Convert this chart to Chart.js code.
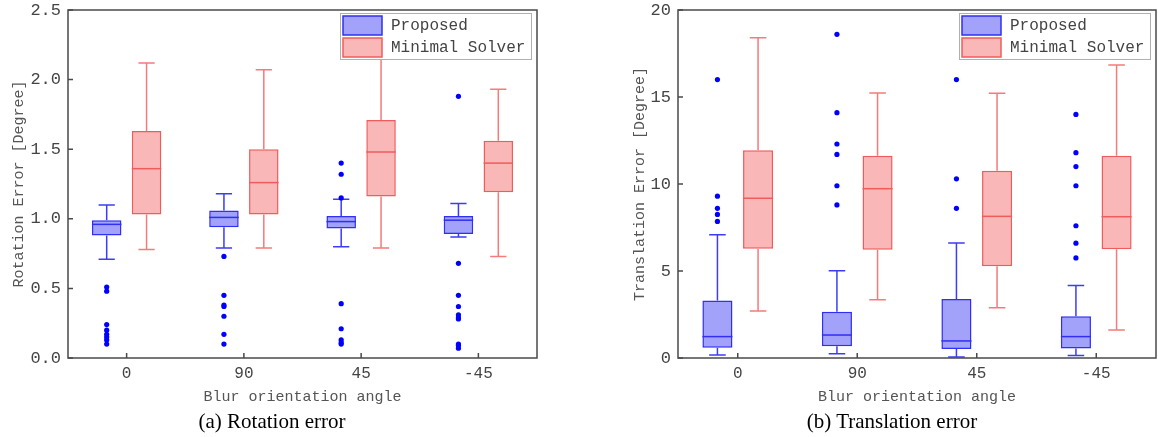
<!DOCTYPE html>
<html>
<head>
<meta charset="utf-8">
<script src="https://cdn.jsdelivr.net/npm/chart.js@4/dist/chart.umd.min.js"></script>
<style>
  html, body { margin: 0; padding: 0; background: #fff; }
  #wrap { position: relative; width: 1158px; height: 437px; overflow: hidden; }
  canvas { position: absolute; top: 0; }
  .cap { position: absolute; top: 409px; font-family: 'Liberation Serif', serif; font-size: 21px; color: #000; transform: translateX(-50%); white-space: nowrap; }
</style>
</head>
<body>
<div id="wrap">
  <canvas id="rotChart" width="579" height="410" style="left:0"></canvas>
  <canvas id="transChart" width="579" height="410" style="left:579px"></canvas>
  <div class="cap" style="left:272px">(a) Rotation error</div>
  <div class="cap" style="left:892px">(b) Translation error</div>
</div>
<script>
// Blur orientation angles (x categories)
const categories = ['0', '90', '45', '-45'];
const seriesNames = ['Proposed', 'Minimal Solver'];

// Rotation error - Proposed
const rotPropLo  = [0.71, 0.79, 0.80, 0.87];
const rotPropQ1  = [0.88, 0.94, 0.93, 0.89];
const rotPropMed = [0.96, 1.01, 0.98, 0.99];
const rotPropQ3  = [0.99, 1.06, 1.02, 1.02];
const rotPropHi  = [1.10, 1.18, 1.14, 1.11];
const rotPropOut = [
    [0.51, 0.48, 0.24, 0.20, 0.17, 0.15, 0.13, 0.10],
    [0.73, 0.45, 0.38, 0.37, 0.30, 0.17, 0.10],
    [1.40, 1.32, 1.15, 0.39, 0.21, 0.13, 0.11, 0.10],
    [1.88, 0.68, 0.45, 0.37, 0.31, 0.29, 0.28, 0.10, 0.09, 0.07]
];
// Rotation error - Minimal Solver
const rotMinLo  = [0.78, 0.79, 0.79, 0.73];
const rotMinQ1  = [1.03, 1.03, 1.16, 1.19];
const rotMinMed = [1.36, 1.26, 1.48, 1.40];
const rotMinQ3  = [1.63, 1.50, 1.71, 1.56];
const rotMinHi  = [2.12, 2.07, 2.30, 1.93];
const rotMinOut = [[], [], [], []];

// Translation error - Proposed
const trPropLo  = [0.17, 0.25, 0.06, 0.14];
const trPropQ1  = [0.59, 0.67, 0.52, 0.54];
const trPropMed = [1.23, 1.32, 0.98, 1.23];
const trPropQ3  = [3.30, 2.66, 3.39, 2.40];
const trPropHi  = [7.09, 5.02, 6.61, 4.16];
const trPropOut = [
    [16.0, 9.3, 8.6, 8.25, 7.85],
    [18.6, 14.1, 12.3, 11.7, 9.9, 8.8],
    [16.0, 10.3, 8.6],
    [14.0, 11.8, 11.0, 9.9, 7.6, 6.6, 5.75]
];
// Translation error - Minimal Solver
const trMinLo  = [2.70, 3.35, 2.89, 1.61];
const trMinQ1  = [6.28, 6.22, 5.27, 6.25];
const trMinMed = [9.18, 9.73, 8.14, 8.12];
const trMinQ3  = [11.94, 11.63, 10.76, 11.63];
const trMinHi  = [18.41, 15.23, 15.21, 16.84];
const trMinOut = [[], [], [], []];

// Tick values
const rotTicks = [0, 0.5, 1.0, 1.5, 2.0, 2.5];
const trTicks = [0, 5, 10, 15, 20];

const BLUE = { fill: 'rgba(85, 85, 245, 0.55)', line: '#2f2ff5', whisker: '#3c3cf8', dot: '#0000ff' };
const RED = { fill: 'rgba(245, 135, 135, 0.6)', line: '#f05c5c', whisker: '#f57a7a', dot: '#ff0000' };

Chart.defaults.font.family = "'Liberation Mono', monospace";
Chart.defaults.color = '#444';

function boxDataset(label, col, lo, q1, med, q3, hi, out) {
    return {
        label: label,
        data: q1.map((v, i) => [v, q3[i]]),
        backgroundColor: col.fill,
        borderColor: col.line,
        borderWidth: 1.5,
        borderSkipped: false,
        categoryPercentage: 0.68,
        barPercentage: 0.74,
        lo: lo, med: med, hi: hi, out: out, col: col
    };
}

// draws medians, whiskers, outliers, frame, inward ticks and the legend
const boxPlotPlugin = {
    id: 'boxPlotPlugin',
    afterDatasetsDraw(chart) {
        const ctx = chart.ctx;
        const y = chart.scales.y;
        chart.data.datasets.forEach((ds, di) => {
            const meta = chart.getDatasetMeta(di);
            meta.data.forEach((bar, i) => {
                const cx = bar.x;
                const half = bar.width / 2;
                const cap = half * 0.55;
                const yQ1 = y.getPixelForValue(ds.data[i][0]);
                const yQ3 = y.getPixelForValue(ds.data[i][1]);
                const yLo = y.getPixelForValue(ds.lo[i]);
                const yHi = y.getPixelForValue(ds.hi[i]);
                const yMed = y.getPixelForValue(ds.med[i]);
                ctx.save();
                ctx.lineWidth = 1.5;
                ctx.strokeStyle = ds.col.whisker;
                ctx.beginPath();
                ctx.moveTo(cx, yQ3); ctx.lineTo(cx, yHi);
                ctx.moveTo(cx - cap, yHi); ctx.lineTo(cx + cap, yHi);
                ctx.moveTo(cx, yQ1); ctx.lineTo(cx, yLo);
                ctx.moveTo(cx - cap, yLo); ctx.lineTo(cx + cap, yLo);
                ctx.stroke();
                ctx.strokeStyle = ds.col.line;
                ctx.beginPath();
                ctx.moveTo(cx - half, yMed); ctx.lineTo(cx + half, yMed);
                ctx.stroke();
                ctx.fillStyle = ds.col.dot;
                ds.out[i].forEach(v => {
                    ctx.beginPath();
                    ctx.arc(cx, y.getPixelForValue(v), 2.6, 0, Math.PI * 2);
                    ctx.fill();
                });
                ctx.restore();
            });
        });
    },
    afterDraw(chart) {
        const ctx = chart.ctx;
        const a = chart.chartArea;
        const x = chart.scales.x;
        const y = chart.scales.y;
        ctx.save();
        ctx.strokeStyle = '#4a4a4a';
        ctx.lineWidth = 1.5;
        ctx.strokeRect(a.left, a.top, a.right - a.left, a.bottom - a.top);
        ctx.beginPath();
        y.ticks.forEach(t => {
            const py = y.getPixelForValue(t.value);
            ctx.moveTo(a.left, py); ctx.lineTo(a.left + 5, py);
        });
        x.ticks.forEach((t, i) => {
            const px = x.getPixelForTick(i);
            ctx.moveTo(px, a.bottom); ctx.lineTo(px, a.bottom - 5);
        });
        ctx.stroke();

        // legend in the top-right corner
        const w = 191, h = 46;
        const lx = a.right - w - 6, ly = a.top + 3;
        ctx.fillStyle = '#fff';
        ctx.fillRect(lx, ly, w, h);
        ctx.strokeStyle = '#b0b0b0';
        ctx.lineWidth = 1;
        ctx.strokeRect(lx + 0.5, ly + 0.5, w, h);
        ctx.font = "16px 'Liberation Mono', monospace";
        ctx.textBaseline = 'middle';
        chart.data.datasets.forEach((ds, di) => {
            const ry = ly + 3 + di * 22;
            ctx.fillStyle = '#fff';
            ctx.fillRect(lx + 3, ry, 39, 19);
            ctx.fillStyle = ds.col.fill;
            ctx.fillRect(lx + 3, ry, 39, 19);
            ctx.strokeStyle = ds.col.line;
            ctx.lineWidth = 1.5;
            ctx.strokeRect(lx + 3, ry, 39, 19);
            ctx.fillStyle = '#444';
            ctx.fillText(ds.label, lx + 51, ry + 10);
        });
        ctx.restore();
    }
};

function makeChart(id, datasets, yMax, yStep, ticks, yTitle, fmt, padLeft, yWidth, padRight) {
    const ctx = document.getElementById(id).getContext('2d');
    return new Chart(ctx, {
        type: 'bar',
        data: { labels: categories, datasets: datasets },
        options: {
            responsive: false,
            animation: false,
            devicePixelRatio: 1,
            layout: { padding: { top: 10, left: padLeft, right: padRight, bottom: 0 } },
            plugins: { legend: { display: false }, tooltip: { enabled: false } },
            scales: {
                x: {
                    grid: { display: false, drawTicks: false },
                    border: { display: false },
                    ticks: { padding: 6, font: { size: 16 }, color: '#444' },
                    title: { display: true, text: 'Blur orientation angle', font: { size: 15 }, color: '#555', padding: { top: 0, bottom: 4 } },
                    afterFit: s => { s.height = 52; s.paddingLeft = 0; s.paddingRight = 0; }
                },
                y: {
                    min: 0,
                    max: yMax,
                    grid: { display: false, drawTicks: false },
                    border: { display: false },
                    afterBuildTicks: s => { s.ticks = ticks.map(v => ({ value: v })); },
                    ticks: { stepSize: yStep, padding: 7, font: { size: 17 }, color: '#444', callback: fmt },
                    title: { display: true, text: yTitle, font: { size: 15 }, color: '#555', padding: { top: 10, bottom: 0 } },
                    afterFit: s => { s.width = yWidth; s.paddingTop = 0; s.paddingBottom = 0; }
                }
            }
        },
        plugins: [boxPlotPlugin]
    });
}

makeChart('rotChart', [
    boxDataset(seriesNames[0], BLUE, rotPropLo, rotPropQ1, rotPropMed, rotPropQ3, rotPropHi, rotPropOut),
    boxDataset(seriesNames[1], RED, rotMinLo, rotMinQ1, rotMinMed, rotMinQ3, rotMinHi, rotMinOut)
], 2.5, 0.5, rotTicks, 'Rotation Error [Degree]', v => Number(v).toFixed(1), 0, 68, 42);

makeChart('transChart', [
    boxDataset(seriesNames[0], BLUE, trPropLo, trPropQ1, trPropMed, trPropQ3, trPropHi, trPropOut),
    boxDataset(seriesNames[1], RED, trMinLo, trMinQ1, trMinMed, trMinQ3, trMinHi, trMinOut)
], 20, 5, trTicks, 'Translation Error [Degree]', v => String(v), 42, 57, 2);
</script>
</body>
</html>
